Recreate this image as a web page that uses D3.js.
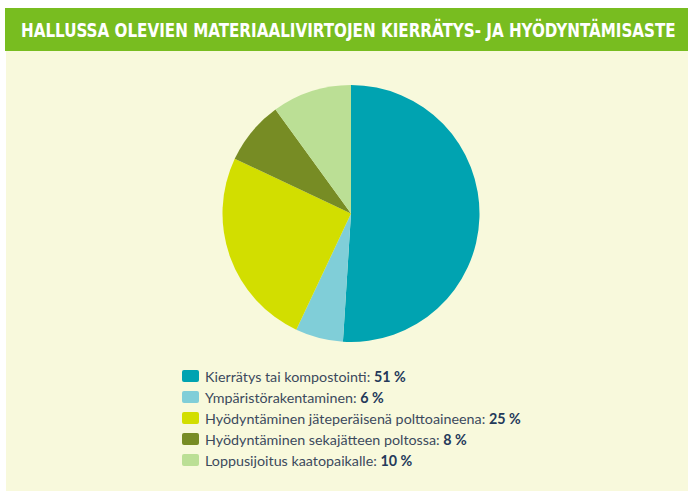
<!DOCTYPE html>
<html>
<head>
<meta charset="utf-8">
<script src="https://cdn.jsdelivr.net/npm/d3@7"></script>
<style>
  body { margin: 0; background: #ffffff; }
  svg { display: block; }
</style>
</head>
<body>
<script>
(function() {

//chart data
    var titleText = "HALLUSSA OLEVIEN MATERIAALIVIRTOJEN KIERRÄTYS- JA HYÖDYNTÄMISASTE";
    var categories = [
        "Kierrätys tai kompostointi",
        "Ympäristörakentaminen",
        "Hyödyntäminen jäteperäisenä polttoaineena",
        "Hyödyntäminen sekajätteen poltossa",
        "Loppusijoitus kaatopaikalle"
    ];
    var shares = [51, 6, 25, 8, 10];
    var colors = ["#00a3b1", "#80ced8", "#d2de00", "#778c24", "#bbdf95"];

//frame dimensions
    var width = 688,
        height = 492,
        cx = 351,
        cy = 213.5,
        radius = 128.5;

    var svg = d3.select("body")
        .append("svg")
        .attr("width", width)
        .attr("height", height);

    //panel background
    svg.append("rect")
        .attr("x", 6).attr("y", 51)
        .attr("width", width - 6).attr("height", 440)
        .attr("fill", "#f8f9dc");

    //green header band
    svg.append("rect")
        .attr("x", 5).attr("y", 8)
        .attr("width", width - 5).attr("height", 43)
        .attr("fill", "#78bd20");

    //title: shrink font to fit the band width, then stretch vertically
    var titleGroup = svg.append("g");
    var title = titleGroup.append("text")
        .attr("x", 0)
        .attr("y", 0)
        .style("font-family", "'DejaVu Sans Condensed', 'DejaVu Sans'")
        .style("font-weight", "bold")
        .style("font-size", "19px")
        .attr("fill", "#ffffff")
        .text(titleText);

    var natural = title.node().getComputedTextLength();
    var fitSize = 19 * Math.min(1, 655 / natural);
    title.style("font-size", fitSize + "px");
    titleGroup.attr("transform", "translate(21,36.5) scale(1," + (19 / fitSize) + ")");

    //pie
    var data = categories.map(function(c, i) {
        return { name: c, value: shares[i], color: colors[i] };
    });

    var pie = d3.pie()
        .sort(null)
        .value(function(d) { return d.value; });

    var arc = d3.arc()
        .innerRadius(0)
        .outerRadius(radius);

    svg.append("g")
        .attr("transform", "translate(" + cx + "," + cy + ")")
        .selectAll("path")
        .data(pie(data))
        .enter()
        .append("path")
        .attr("d", arc)
        .attr("fill", function(d) { return d.data.color; });

    //legend
    var legendY = d3.scaleBand()
        .domain(categories)
        .range([366, 471]);

    var items = svg.selectAll(".legendItem")
        .data(data)
        .enter()
        .append("g")
        .attr("class", "legendItem")
        .attr("transform", function(d) {
            return "translate(182," + (legendY(d.name) + legendY.bandwidth() / 2) + ")";
        });

    items.append("rect")
        .attr("x", 0).attr("y", -6.5)
        .attr("width", 17).attr("height", 12)
        .attr("rx", 2)
        .attr("fill", function(d) { return d.color; });

    var label = items.append("text")
        .attr("x", 23)
        .attr("y", 5)
        .style("font-family", "Lato, 'Open Sans', sans-serif")
        .style("font-size", "14.3px")
        .attr("fill", "#3c4a5c");

    label.append("tspan")
        .text(function(d) { return d.name + ": "; });

    label.append("tspan")
        .style("font-weight", "bold")
        .attr("fill", "#24395a")
        .text(function(d) { return d.value + " %"; });

})();
</script>
</body>
</html>
